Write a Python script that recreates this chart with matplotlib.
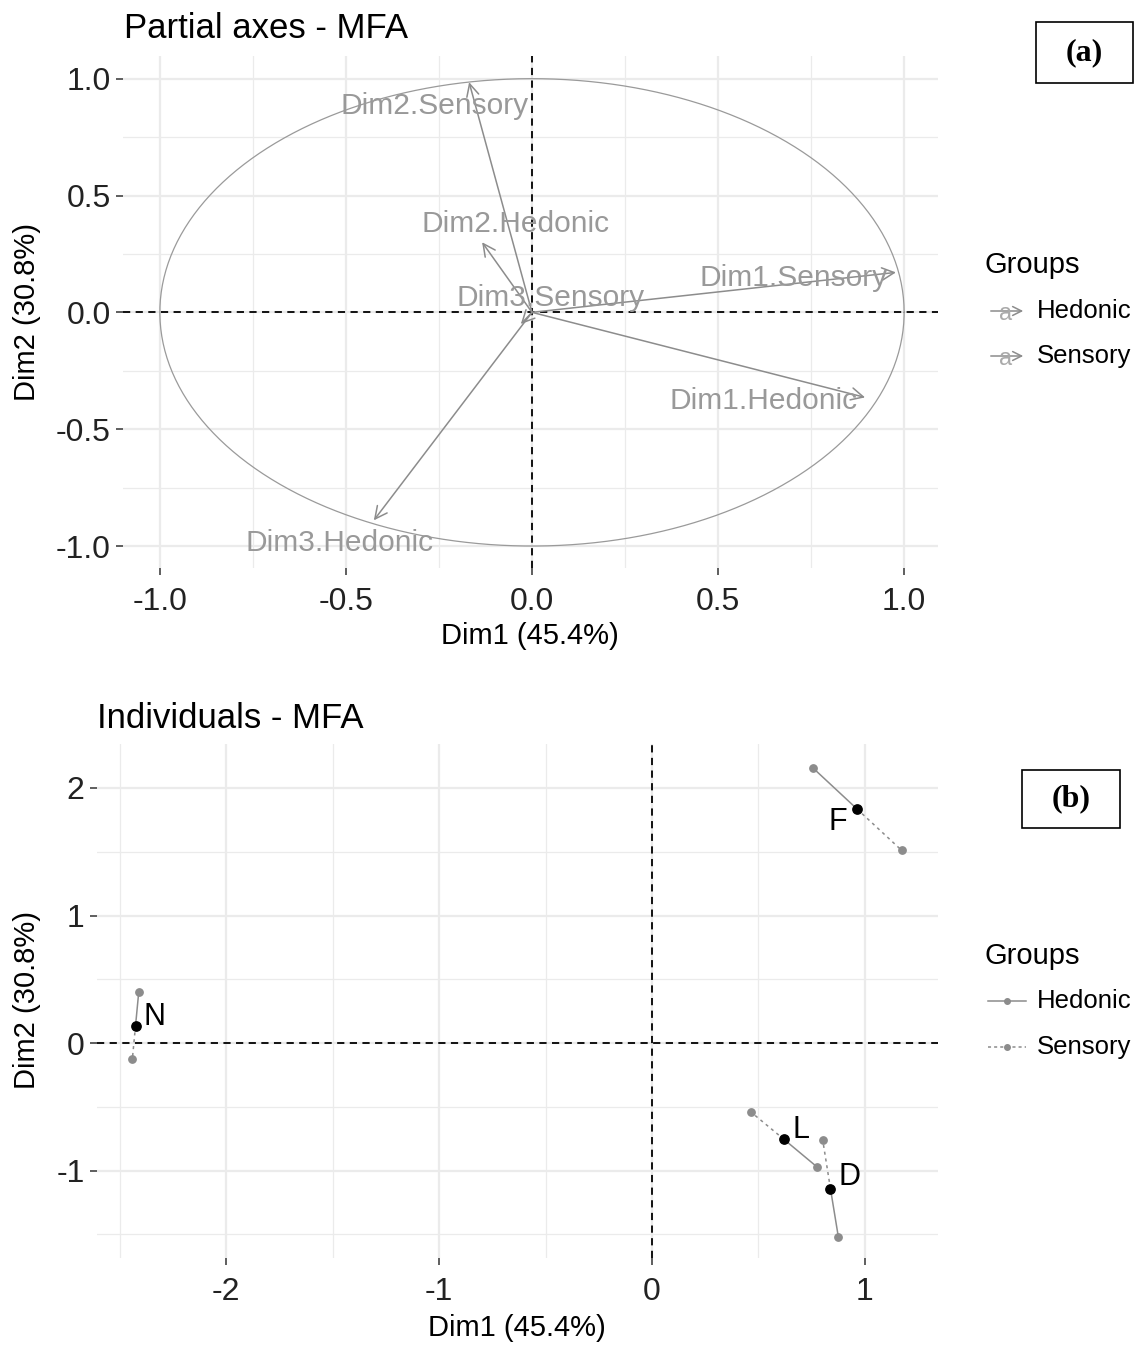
import matplotlib
matplotlib.use("Agg")
import matplotlib.pyplot as plt
import numpy as np
from matplotlib.lines import Line2D
from matplotlib.patches import Rectangle, FancyArrowPatch

plt.rcParams['font.family'] = ['Liberation Sans', 'DejaVu Sans']
plt.rcParams['axes.unicode_minus'] = False

# ---------------- data: panel (a) partial axes ----------------
axis_names = ["Dim1.Sensory", "Dim1.Hedonic", "Dim2.Sensory", "Dim2.Hedonic", "Dim3.Sensory", "Dim3.Hedonic"]
axis_x = [0.978, 0.895, -0.169, -0.134, -0.030, -0.425]
axis_y = [0.171, -0.364, 0.985, 0.300, -0.050, -0.890]
label_x = [0.704, 0.622, -0.261, -0.043, 0.051, -0.517]
label_y = [0.146, -0.381, 0.882, 0.377, 0.060, -0.989]

# ---------------- data: panel (b) individuals ----------------
ind_names = ["F", "N", "L", "D"]
ind_x = [0.963, -2.425, 0.620, 0.838]
ind_y = [1.835, 0.137, -0.756, -1.142]
hed_x = [0.754, -2.410, 0.773, 0.875]
hed_y = [2.160, 0.400, -0.969, -1.520]
sen_x = [1.173, -2.440, 0.466, 0.802]
sen_y = [1.510, -0.126, -0.543, -0.764]

W, H = 1135, 1347
fig = plt.figure(figsize=(W / 100, H / 100), dpi=100)
fig.patch.set_facecolor("white")

def fx(px):
    return px / W

def fy(py):
    return 1 - py / H

GRID = "#ebebeb"
GRAY = "#999999"
TXT = "#222222"
TICK = 23

def style_axes(ax):
    ax.set_facecolor("white")
    for s in ax.spines.values():
        s.set_visible(False)
    ax.grid(True, which="major", color=GRID, lw=1.6)
    ax.grid(True, which="minor", color=GRID, lw=0.9)
    ax.set_axisbelow(True)
    ax.tick_params(which="major", length=5, width=1.1, color="#333333", labelsize=TICK, labelcolor=TXT)
    ax.tick_params(axis="x", which="major", pad=9)
    ax.tick_params(axis="y", which="major", pad=4)
    ax.tick_params(which="minor", length=0)

# ---------------- panel (a) ----------------
ax1 = fig.add_axes([fx(123), fy(568), fx(938) - fx(123), fy(56) - fy(568)])
style_axes(ax1)
ax1.set_xlim(-1.099, 1.091)
ax1.set_ylim(-1.094, 1.097)
ax1.set_xticks([-1.0, -0.5, 0.0, 0.5, 1.0])
ax1.set_yticks([-1.0, -0.5, 0.0, 0.5, 1.0])
ax1.set_xticks([-0.75, -0.25, 0.25, 0.75], minor=True)
ax1.set_yticks([-0.75, -0.25, 0.25, 0.75], minor=True)
ax1.set_xticklabels(["-1.0", "-0.5", "0.0", "0.5", "1.0"])
ax1.set_yticklabels(["-1.0", "-0.5", "0.0", "0.5", "1.0"])

t = np.linspace(0, 2 * np.pi, 400)
ax1.plot(np.cos(t), np.sin(t), color="#9a9a9a", lw=0.9, zorder=2)
ax1.axhline(0, color="black", ls=(0, (4, 3)), lw=1.3, zorder=3)
ax1.axvline(0, color="black", ls=(0, (4, 3)), lw=1.3, zorder=3)

for nm, x, y, lx, ly in zip(axis_names, axis_x, axis_y, label_x, label_y):
    ax1.annotate("", xy=(x, y), xytext=(0, 0),
                 arrowprops=dict(arrowstyle="->", color="#8c8c8c", lw=1.1,
                                 mutation_scale=22, shrinkA=0, shrinkB=0), zorder=4)
    ax1.text(lx, ly, nm, color=GRAY, fontsize=21.5, ha="center", va="center", zorder=5)

fig.text(fx(530), fy(636), "Dim1 (45.4%)", fontsize=21, ha="center", va="center")
fig.text(fx(27), fy(312), "Dim2 (30.8%)", fontsize=21, ha="center", va="center", rotation=90)
fig.text(fx(124), fy(28), "Partial axes - MFA", fontsize=25, ha="left", va="center")

# ---------------- panel (b) ----------------
ax2 = fig.add_axes([fx(97), fy(1258), fx(938) - fx(97), fy(744) - fy(1258)])
style_axes(ax2)
ax2.set_xlim(-2.606, 1.343)
ax2.set_ylim(-1.686, 2.345)
ax2.set_xticks([-2, -1, 0, 1])
ax2.set_yticks([-1, 0, 1, 2])
ax2.set_xticks([-2.5, -1.5, -0.5, 0.5], minor=True)
ax2.set_yticks([-1.5, -0.5, 0.5, 1.5], minor=True)
ax2.axhline(0, color="black", ls=(0, (4, 3)), lw=1.3, zorder=2)
ax2.axvline(0, color="black", ls=(0, (4, 3)), lw=1.3, zorder=2)

for i in range(len(ind_names)):
    ax2.plot([ind_x[i], hed_x[i]], [ind_y[i], hed_y[i]], color="#8c8c8c", lw=1.1, zorder=3)
    ax2.plot([ind_x[i], sen_x[i]], [ind_y[i], sen_y[i]], color="#8c8c8c", lw=1.1, ls=(0, (2, 2.5)), zorder=3)
ax2.scatter(hed_x, hed_y, s=28, color="#8c8c8c", zorder=4)
ax2.scatter(sen_x, sen_y, s=28, color="#8c8c8c", zorder=4)
ax2.scatter(ind_x, ind_y, s=45, color="black", zorder=5)

lab_off = {"F": (-0.09, -0.10), "N": (0.09, 0.07), "L": (0.08, 0.07), "D": (0.09, 0.09)}
for nm, x, y in zip(ind_names, ind_x, ind_y):
    dx, dy = lab_off[nm]
    ax2.text(x + dx, y + dy, nm, fontsize=22, ha="center", va="center", color="black", zorder=6)

fig.text(fx(517), fy(1328), "Dim1 (45.4%)", fontsize=21, ha="center", va="center")
fig.text(fx(27), fy(1000), "Dim2 (30.8%)", fontsize=21, ha="center", va="center", rotation=90)
fig.text(fx(97), fy(718), "Individuals - MFA", fontsize=25, ha="left", va="center")

# ---------------- legends ----------------
def legend_title(py):
    fig.text(fx(985), fy(py), "Groups", fontsize=21, ha="left", va="center")

# panel (a): arrow + "a" keys
legend_title(265)
for py, lab in [(311, "Hedonic"), (356, "Sensory")]:
    fig.add_artist(FancyArrowPatch(
        (fx(988), fy(py)), (fx(1026), fy(py)), transform=fig.transFigure,
        arrowstyle="->", mutation_scale=16, color="#8c8c8c", lw=1.1))
    fig.text(fx(1006), fy(py + 3), "a", fontsize=17, color="#aaaaaa", ha="center", va="center")
    fig.text(fx(1037), fy(py), lab, fontsize=18.5, ha="left", va="center", color="black")

# panel (b): line keys
legend_title(956)
for py, lab, ls in [(1001, "Hedonic", "-"), (1047, "Sensory", (0, (2, 2)))]:
    fig.add_artist(Line2D([fx(988), fx(1026)], [fy(py), fy(py)], transform=fig.transFigure,
                          color="#8c8c8c", lw=1.1, ls=ls))
    fig.add_artist(Line2D([fx(1007)], [fy(py)], transform=fig.transFigure,
                          color="#8c8c8c", marker="o", markersize=4, ls="none"))
    fig.text(fx(1037), fy(py), lab, fontsize=18.5, ha="left", va="center", color="black")

# ---------------- (a) / (b) boxes ----------------
def tag(x0, y0, x1, y1, s):
    fig.add_artist(Rectangle((fx(x0), fy(y1)), fx(x1) - fx(x0), fy(y0) - fy(y1),
                             transform=fig.transFigure, fill=False, ec="black", lw=1.2))
    fig.text((fx(x0) + fx(x1)) / 2, (fy(y0) + fy(y1)) / 2, s, fontsize=23, fontweight="bold",
             family="Liberation Serif", ha="center", va="center")

tag(1036, 22, 1133, 83, "(a)")
tag(1022, 770, 1120, 828, "(b)")

fig.savefig("out.png", dpi=100, facecolor="white")
